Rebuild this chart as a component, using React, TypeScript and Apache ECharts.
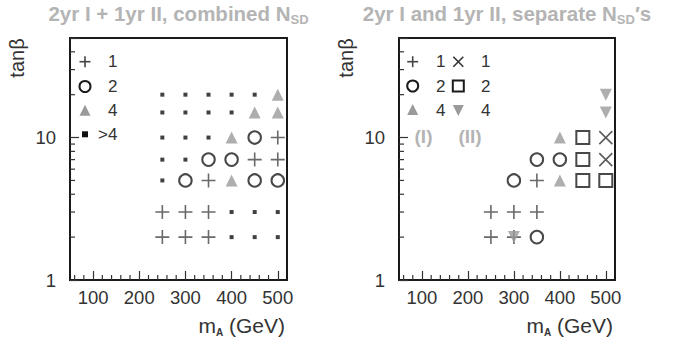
import React, { useEffect, useRef } from 'react';
import * as echarts from 'echarts';

// ---- data ----
const massValues = [250, 300, 350, 400, 450, 500];
const tanBetaValues = [20, 15, 10, 7, 5, 3, 2];
// codes: P = 1 (+), O = 2 (circle), T = 4 (triangle up), S = >4 (small square)
// X = 1 (II, cross), Q = 2 (II, open square), V = 4 (II, triangle down)
const combinedCells = [
  ['S', 'S', 'S', 'S', 'S', 'T'],
  ['S', 'S', 'S', 'S', 'T', 'T'],
  ['S', 'S', 'S', 'T', 'O', 'P'],
  ['S', 'S', 'O', 'O', 'P', 'P'],
  ['S', 'O', 'P', 'T', 'O', 'O'],
  ['P', 'P', 'P', 'S', 'S', 'S'],
  ['P', 'P', 'P', 'S', 'S', 'S'],
];
const separateCells = [
  ['', '', '', '', '', 'V'],
  ['', '', '', '', '', 'V'],
  ['', '', '', 'T', 'Q', 'X'],
  ['', '', 'O', 'O', 'Q', 'X'],
  ['', 'O', 'P', 'T', 'Q', 'Q'],
  ['P', 'P', 'P', '', '', ''],
  ['P', 'PV', 'O', '', '', ''],
];
const xTickValues = [100, 200, 300, 400, 500];
const xMinorTickValues = [60, 80, 120, 140, 160, 180, 220, 240, 260, 280, 320, 340, 360, 380, 420, 440, 460, 480];
const yMinorTickValues = [2, 3, 4, 5, 6, 7, 8, 9, 20, 30, 40];
const yLabelValues = [1, 10];
const xRange = [50, 520];
const yRange = [1, 50];

const FONT = '"Liberation Sans", Arial, Helvetica, sans-serif';
const GRAY = '#9a9a9a';
const TITLE_GRAY = '#b4b4b4';

const grids = [
  { left: 70, top: 38, width: 217, height: 242 },
  { left: 399, top: 38, width: 216, height: 242 },
];

const plusPath = 'path://M7,0L7,14M0,7L14,7';
const crossPath = 'path://M0,0L10,10M0,10L10,0';

const symbolDefs: Record<string, any> = {
  S: { symbol: 'rect', symbolSize: 4, itemStyle: { color: '#111' } },
  P: { symbol: plusPath, symbolSize: 14, itemStyle: { color: '#444', borderColor: '#444', borderWidth: 1.6 } },
  O: { symbol: 'emptyCircle', symbolSize: 12.5, itemStyle: { color: '#1a1a1a' } },
  T: { symbol: 'triangle', symbolSize: 12, itemStyle: { color: GRAY } },
  X: { symbol: crossPath, symbolSize: 13, itemStyle: { color: '#333', borderColor: '#333', borderWidth: 1.6 } },
  Q: { symbol: 'emptyRect', symbolSize: 13, itemStyle: { color: '#1a1a1a' } },
  V: { symbol: 'triangle', symbolSize: 12, symbolRotate: 180, itemStyle: { color: GRAY } },
};
const drawOrder = ['S', 'P', 'O', 'T', 'X', 'Q', 'V'];

function buildMarkerSeries(cells: string[][], gridIndex: number) {
  const out: any[] = [];
  drawOrder.forEach((code) => {
    const data: number[][] = [];
    cells.forEach((row, ri) =>
      row.forEach((cell, ci) => {
        if (cell.includes(code)) data.push([massValues[ci], tanBetaValues[ri]]);
      })
    );
    if (!data.length) return;
    out.push({
      type: 'scatter',
      xAxisIndex: gridIndex,
      yAxisIndex: gridIndex,
      data,
      silent: true,
      ...symbolDefs[code],
    });
  });
  return out;
}

function tickSeries(gridIndex: number, values: number[], dir: 'x' | 'y', len: number) {
  return {
    type: 'custom',
    xAxisIndex: gridIndex,
    yAxisIndex: gridIndex,
    silent: true,
    clip: false,
    z: 5,
    data: values.map((v) => (dir === 'x' ? [v, yRange[0]] : [xRange[0], v])),
    renderItem: (params: any, api: any) => {
      const p = api.coord([api.value(0), api.value(1)]);
      const shape =
        dir === 'x'
          ? { x1: p[0], y1: p[1], x2: p[0], y2: p[1] - len }
          : { x1: p[0], y1: p[1], x2: p[0] + len, y2: p[1] };
      return { type: 'line', shape, style: { stroke: '#333', lineWidth: 1.2 } };
    },
  };
}

function legendMarker(code: string, x: number, y: number): any[] {
  const s = 5.5;
  switch (code) {
    case 'P':
      return [
        { type: 'line', shape: { x1: x - s, y1: y, x2: x + s, y2: y }, style: { stroke: '#444', lineWidth: 1.6 } },
        { type: 'line', shape: { x1: x, y1: y - s, x2: x, y2: y + s }, style: { stroke: '#444', lineWidth: 1.6 } },
      ];
    case 'X':
      return [
        { type: 'line', shape: { x1: x - 5, y1: y - 5, x2: x + 5, y2: y + 5 }, style: { stroke: '#333', lineWidth: 1.6 } },
        { type: 'line', shape: { x1: x - 5, y1: y + 5, x2: x + 5, y2: y - 5 }, style: { stroke: '#333', lineWidth: 1.6 } },
      ];
    case 'O':
      return [{ type: 'circle', shape: { cx: x, cy: y, r: 5.5 }, style: { fill: 'none', stroke: '#1a1a1a', lineWidth: 2 } }];
    case 'Q':
      return [{ type: 'rect', shape: { x: x - 5.5, y: y - 5.5, width: 11, height: 11 }, style: { fill: 'none', stroke: '#1a1a1a', lineWidth: 2 } }];
    case 'T':
      return [{ type: 'polygon', shape: { points: [[x, y - 6], [x + 5.5, y + 5], [x - 5.5, y + 5]] }, style: { fill: GRAY } }];
    case 'V':
      return [{ type: 'polygon', shape: { points: [[x, y + 6], [x + 5.5, y - 5], [x - 5.5, y - 5]] }, style: { fill: GRAY } }];
    case 'S':
      return [{ type: 'rect', shape: { x: x - 3, y: y - 3, width: 6, height: 6 }, style: { fill: '#111' } }];
  }
  return [];
}

function label(text: string, x: number, y: number, align = 'left', color = '#333', weight = 'normal', size = 17): any {
  return {
    type: 'text',
    x,
    y,
    style: { text, fill: color, fontSize: size, fontFamily: FONT, fontWeight: weight, align, verticalAlign: 'middle' },
  };
}

function buildGraphics(): any[] {
  const g: any[] = [];
  const titleStyle = (text: string, x: number) => ({
    type: 'text',
    x,
    y: 13,
    style: {
      text,
      align: 'center',
      verticalAlign: 'middle',
      fill: TITLE_GRAY,
      fontSize: 20,
      fontWeight: 'bold',
      fontFamily: FONT,
      rich: {
        sub: { fontSize: 13, fontWeight: 'bold', fontFamily: FONT, fill: TITLE_GRAY, verticalAlign: 'bottom', lineHeight: 26 },
        m: { fontSize: 20.5, fontWeight: 'bold', fontFamily: FONT, fill: TITLE_GRAY, lineHeight: 20 },
      },
    },
  });
  g.push(titleStyle('{m|2yr I + 1yr II, combined N}{sub|SD}', 178.5));
  g.push(titleStyle('{m|2yr I and 1yr II, separate N}{sub|SD}{m|\u2032s}', 507));

  grids.forEach((gr) => {
    g.push({
      type: 'text',
      x: gr.left - 53,
      y: 58,
      rotation: Math.PI / 2,
      style: { text: 'tan\u03B2', fill: '#333', fontSize: 20, fontFamily: FONT, align: 'center', verticalAlign: 'middle' },
    });
    g.push({
      type: 'text',
      x: gr.left + gr.width - 2,
      y: 325,
      style: {
        text: '{m|m}{a|A}{m| (GeV)}',
        align: 'right',
        verticalAlign: 'middle',
        fill: '#333',
        fontFamily: FONT,
        fontSize: 20,
        rich: {
          m: { fontSize: 21, fontFamily: FONT, fill: '#333', lineHeight: 24 },
          a: { fontSize: 10, fontWeight: 'bold', fontFamily: FONT, fill: '#333', verticalAlign: 'bottom', lineHeight: 24 },
        },
      },
    });
  });

  // left legend
  const lx = 85;
  const rowsL = [61.7, 86.5, 110.7, 134.3];
  g.push(...legendMarker('P', lx, rowsL[0]), label('1', 108, rowsL[0]));
  g.push(...legendMarker('O', lx, rowsL[1]), label('2', 108, rowsL[1]));
  g.push(...legendMarker('T', lx, rowsL[2]), label('4', 108, rowsL[2]));
  g.push(...legendMarker('S', lx, rowsL[3]), label('>4', 98, rowsL[3]));

  // right legend
  const rx1 = 412.7;
  const rx2 = 458.3;
  const rowsR = [61.7, 86, 110];
  g.push(...legendMarker('P', rx1, rowsR[0]), label('1', 436, rowsR[0]));
  g.push(...legendMarker('O', rx1, rowsR[1]), label('2', 436, rowsR[1]));
  g.push(...legendMarker('T', rx1, rowsR[2]), label('4', 436, rowsR[2]));
  g.push(...legendMarker('X', rx2, rowsR[0]), label('1', 481, rowsR[0]));
  g.push(...legendMarker('Q', rx2, rowsR[1]), label('2', 481, rowsR[1]));
  g.push(...legendMarker('V', rx2, rowsR[2]), label('4', 481, rowsR[2]));
  g.push(label('(I)', 423.5, 136.5, 'center', TITLE_GRAY, 'bold', 19));
  g.push(label('(II)', 470, 136.5, 'center', TITLE_GRAY, 'bold', 19));
  return g;
}

export default function App() {
  const ref = useRef<HTMLDivElement>(null);
  useEffect(() => {
    document.body.style.margin = '0';
    if (!ref.current) return;
    const chart = echarts.init(ref.current, undefined, { renderer: 'svg' });
    const xAxes = grids.map((_, i) => ({
      type: 'value',
      gridIndex: i,
      min: xRange[0],
      max: xRange[1],
      axisLine: { show: false },
      splitLine: { show: false },
      axisTick: { show: true, inside: true, length: 9, customValues: xTickValues, lineStyle: { color: '#333', width: 1.2 } },
      axisLabel: { customValues: xTickValues, margin: 8, fontSize: 18.5, fontFamily: FONT, color: '#333' },
    }));
    const yAxes = grids.map((_, i) => ({
      type: 'log',
      logBase: 10,
      gridIndex: i,
      min: yRange[0],
      max: yRange[1],
      axisLine: { show: false },
      splitLine: { show: false },
      minorTick: { show: false },
      axisTick: { show: true, inside: true, length: 9, lineStyle: { color: '#333', width: 1.2 } },
      axisLabel: {
        margin: 14,
        fontSize: 18.5,
        fontFamily: FONT,
        color: '#333',
        formatter: (v: number) => (yLabelValues.some((t) => Math.abs(t - v) < 1e-6) ? String(v) : ''),
      },
    }));
    const series: any[] = [];
    [combinedCells, separateCells].forEach((cells, i) => {
      series.push(tickSeries(i, xMinorTickValues, 'x', 5));
      series.push(tickSeries(i, yMinorTickValues, 'y', 5));
      series.push(...buildMarkerSeries(cells, i));
    });
    chart.setOption({
      animation: false,
      backgroundColor: '#ffffff',
      grid: grids.map((g) => ({ ...g, show: true, borderColor: '#1a1a1a', borderWidth: 2, backgroundColor: 'transparent' })),
      xAxis: xAxes,
      yAxis: yAxes,
      series,
      graphic: buildGraphics(),
    });
    return () => chart.dispose();
  }, []);
  return <div ref={ref} style={{ width: 676, height: 343 }} />;
}
